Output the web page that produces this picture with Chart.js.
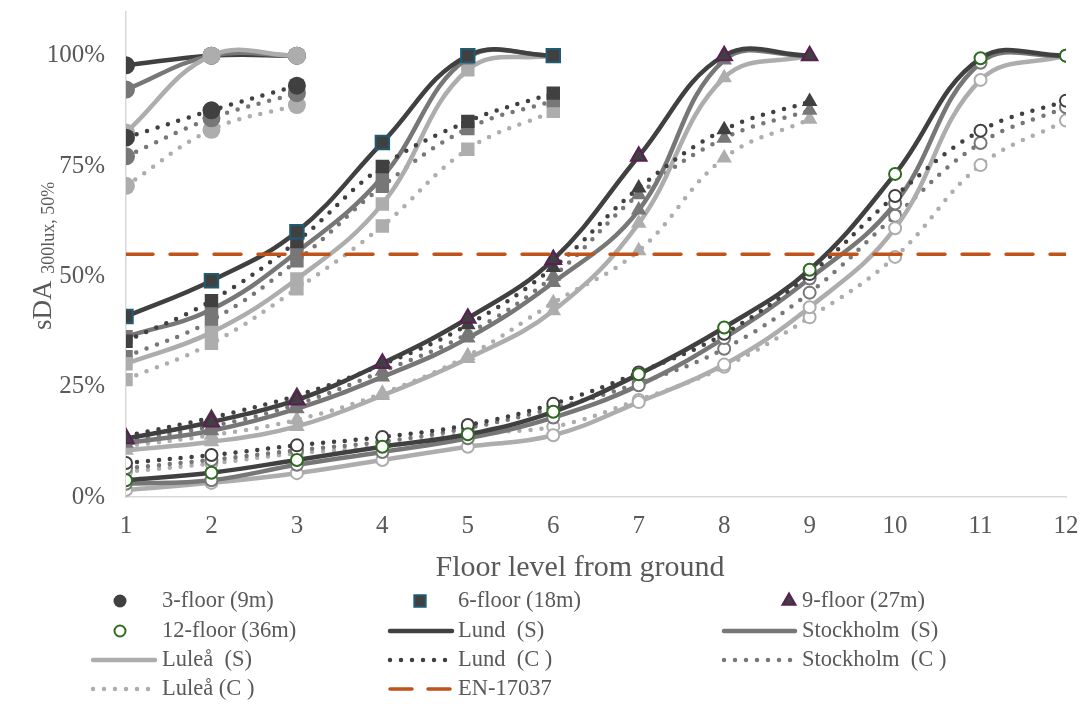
<!DOCTYPE html>
<html>
<head>
<meta charset="utf-8">
<script src="https://cdn.jsdelivr.net/npm/chart.js@4.4.1/dist/chart.umd.min.js"></script>
<style>
  html, body { margin: 0; padding: 0; background: #ffffff; }
  #wrap { width: 1083px; height: 704px; position: relative; }
</style>
</head>
<body>
<div id="wrap"><canvas id="c" width="1083" height="704"></canvas></div>
<script>
// ---- data (sDA in %, by floor level) ----
const floors = [1, 2, 3, 4, 5, 6, 7, 8, 9, 10, 11, 12];
const yTicks = [0, 25, 50, 75, 100];
const thresholdValue = 55;
const thresholdLabel = 'EN-17037';
const xTitle = 'Floor level from ground';
const yTitleMain = 'sDA';
const yTitleSub = '300lux, 50%';

const buildingNames = ['3-floor (9m)', '6-floor (18m)', '9-floor (27m)', '12-floor (36m)'];
const seriesNames = ['Lund  (S)', 'Stockholm  (S)', 'Luleå  (S)', 'Lund  (C )', 'Stockholm  (C )', 'Luleå (C )'];

// 3-floor building
const b3LundS  = [97.8, 100, 100];
const b3StockS = [92.3, 100, 100];
const b3LuleS  = [82.6, 100, 100];
const b3LundC  = [81.4, 87.6, 93.2];
const b3StockC = [77.2, 85.8, 91.5];
const b3LuleC  = [70.5, 83.2, 88.8];

// 6-floor building
const b6LundS  = [40.9, 49.0, 60.1, 80.3, 100, 100];
const b6StockS = [36.3, 42.5, 55.5, 72.5, 99.5, 100];
const b6LuleS  = [30.2, 37.3, 49.4, 66.4, 96.8, 100];
const b6LundC  = [35.3, 44.5, 57.9, 74.9, 85.1, 91.5];
const b6StockC = [31.8, 40.0, 53.5, 70.4, 83.5, 89.8];
const b6LuleC  = [26.6, 34.8, 47.2, 61.4, 78.8, 87.4];

// 9-floor building
const b9LundS  = [13.2, 17.0, 22.0, 30.3, 40.5, 53.8, 77.2, 100, 100];
const b9StockS = [12.2, 15.0, 20.0, 27.2, 36.0, 48.6, 65.0, 99.0, 100];
const b9LuleS  = [10.6, 12.5, 16.0, 23.0, 31.4, 42.2, 62.0, 95.0, 100];
const b9LundC  = [13.8, 18.0, 23.0, 30.0, 39.0, 52.0, 70.0, 83.2, 89.6];
const b9StockC = [12.8, 16.0, 21.0, 28.5, 37.0, 50.0, 68.5, 81.3, 87.6];
const b9LuleC  = [11.5, 14.0, 17.5, 23.5, 32.0, 44.0, 55.8, 76.8, 85.6];

// 12-floor building
const b12LundS  = [3.8, 5.5, 8.4, 11.4, 14.2, 19.3, 27.8, 38.4, 51.5, 73.2, 99.4, 100];
const b12StockS = [3.0, 3.8, 7.3, 10.2, 13.3, 18.0, 25.3, 36.0, 49.5, 66.5, 98.4, 100];
const b12LuleS  = [1.6, 3.2, 5.4, 8.4, 11.4, 14.0, 21.5, 30.0, 43.0, 60.9, 94.5, 100];
const b12LundC  = [7.7, 9.5, 11.7, 13.6, 16.3, 21.1, 28.2, 37.0, 50.5, 68.2, 83.0, 89.8];
const b12StockC = [6.5, 8.4, 10.6, 12.5, 15.6, 20.1, 25.8, 33.6, 46.3, 63.7, 80.2, 88.3];
const b12LuleC  = [5.7, 7.6, 9.9, 11.4, 14.4, 15.9, 22.0, 29.5, 40.7, 54.4, 75.2, 85.3];

// ---- styling ----
const FONT = "'Liberation Serif', 'Times New Roman', serif";
const TEXT = '#595959';
const cityColor = ['#404040', '#777777', '#ADADAD', '#404040', '#777777', '#ADADAD'];
const isCalc = [false, false, false, true, true, true];
const SOLID_W = 4.5;
const DOT_DASH = [0, 11];
const THRESH_COLOR = '#C0531A';

// marker look per building: style, radius, and accent border on the Lund (S) series
const markerLook = [
  { style: 'circle',   radius: 9,   accent: null,      hollow: false },
  { style: 'rect',     radius: 9.5, accent: '#1F5C74', hollow: false },
  { style: 'triangle', radius: 9,   accent: '#5A1F55', hollow: false },
  { style: 'circle',   radius: 6,   accent: '#2E6A1F', hollow: true  }
];

const buildingSeries = [
  [b3LundS, b3StockS, b3LuleS, b3LundC, b3StockC, b3LuleC],
  [b6LundS, b6StockS, b6LuleS, b6LundC, b6StockC, b6LuleC],
  [b9LundS, b9StockS, b9LuleS, b9LundC, b9StockC, b9LuleC],
  [b12LundS, b12StockS, b12LuleS, b12LundC, b12StockC, b12LuleC]
];

// draw order inside a building, bottom first
const stackOrder = [
  [0, 1, 2, 5, 4, 3],
  [5, 4, 2, 1, 3, 0],
  [5, 4, 2, 1, 3, 0],
  [5, 4, 2, 1, 3, 0]
];

function makeDataset(b, s) {
  const look = markerLook[b];
  const values = buildingSeries[b][s];
  const col = cityColor[s];
  const accent = (s === 0 && look.accent) ? look.accent : null;
  return {
    label: buildingNames[b] + ' ' + seriesNames[s],
    data: values.map((v, i) => ({ x: floors[i], y: v })),
    borderColor: col,
    borderWidth: SOLID_W,
    borderDash: isCalc[s] ? DOT_DASH : [],
    borderCapStyle: 'round',
    borderJoinStyle: 'round',
    tension: 0.4,
    fill: false,
    pointStyle: look.style,
    pointRadius: look.radius,
    pointBackgroundColor: look.hollow ? '#ffffff' : col,
    pointBorderColor: accent || col,
    pointBorderWidth: look.hollow ? 2 : (accent ? 2 : 0)
  };
}

const bottomUp = [];
[3, 2, 1, 0].forEach(b => stackOrder[b].forEach(s => bottomUp.push(makeDataset(b, s))));
bottomUp.push({
  label: thresholdLabel,
  data: [{ x: floors[0], y: thresholdValue }, { x: floors[floors.length - 1], y: thresholdValue }],
  borderColor: THRESH_COLOR,
  borderWidth: 3.5,
  borderDash: [27, 17],
  borderCapStyle: 'round',
  pointRadius: 0,
  tension: 0
});
// Chart.js paints the first dataset on top
const datasets = bottomUp.slice().reverse();

// ---- axis titles and legend ----
const legendCols = [
  { x0: 91,  x1: 157, mx: 120, tx: 162 },
  { x0: 388, x1: 454, mx: 420, tx: 458 },
  { x0: 722, x1: 797, mx: 789, tx: 802 }
];
const legendRows = [601, 631, 660, 689];

function legendEntries() {
  const out = [];
  buildingNames.forEach((name, b) => out.push({ kind: 'marker', b, text: name }));
  seriesNames.forEach((name, s) => out.push({ kind: 'line', s, text: name }));
  out.push({ kind: 'thresh', text: thresholdLabel });
  return out;
}

const decorPlugin = {
  id: 'decor',
  afterDraw(chart) {
    const ctx = chart.ctx;
    ctx.save();
    ctx.fillStyle = TEXT;

    // x title
    ctx.font = `30px ${FONT}`;
    ctx.textAlign = 'center';
    ctx.textBaseline = 'middle';
    ctx.fillText(xTitle, 580, 568);

    // y title with subscript
    ctx.save();
    ctx.font = `27px ${FONT}`;
    const wMain = ctx.measureText(yTitleMain + ' ').width;
    ctx.font = `18px ${FONT}`;
    const wSub = ctx.measureText(yTitleSub).width;
    const total = wMain + wSub;
    ctx.translate(51, 256);
    ctx.rotate(-Math.PI / 2);
    ctx.textAlign = 'left';
    ctx.textBaseline = 'alphabetic';
    ctx.font = `27px ${FONT}`;
    ctx.fillText(yTitleMain + ' ', -total / 2, 0);
    ctx.font = `18px ${FONT}`;
    ctx.fillText(yTitleSub, -total / 2 + wMain, 3);
    ctx.restore();

    // legend
    const entries = legendEntries();
    entries.forEach((e, i) => {
      const col = legendCols[i % 3];
      const y = legendRows[Math.floor(i / 3)];
      if (e.kind === 'marker') {
        const look = markerLook[e.b];
        const r = look.style === 'circle' ? (look.hollow ? 5.5 : 6.5) : (look.style === 'rect' ? 8 : 7.5);
        ctx.fillStyle = look.hollow ? '#ffffff' : cityColor[0];
        ctx.strokeStyle = look.accent || cityColor[0];
        ctx.lineWidth = look.accent ? 2 : 0;
        Chart.helpers.drawPoint(ctx, { pointStyle: look.style, radius: r, rotation: 0, borderWidth: look.accent ? 2 : 0 }, col.mx, y);
      } else {
        ctx.save();
        ctx.beginPath();
        ctx.lineCap = 'round';
        if (e.kind === 'thresh') {
          ctx.strokeStyle = THRESH_COLOR;
          ctx.lineWidth = 3.5;
          ctx.setLineDash([22, 16]);
        } else {
          ctx.strokeStyle = cityColor[e.s];
          ctx.lineWidth = SOLID_W;
          ctx.setLineDash(isCalc[e.s] ? DOT_DASH : []);
        }
        ctx.moveTo(col.x0 + 2, y);
        ctx.lineTo(col.x1 - 2, y);
        ctx.stroke();
        ctx.restore();
      }
      ctx.fillStyle = TEXT;
      ctx.font = `22.5px ${FONT}`;
      ctx.textAlign = 'left';
      ctx.textBaseline = 'middle';
      ctx.fillText(e.text, col.tx, y);
    });
    ctx.restore();
  }
};

new Chart(document.getElementById('c'), {
  type: 'line',
  data: { datasets },
  options: {
    responsive: false,
    animation: false,
    devicePixelRatio: 1,
    events: [],
    layout: { padding: { top: 10, right: 17, bottom: 0, left: 0 } },
    plugins: { legend: { display: false }, tooltip: { enabled: false } },
    scales: {
      x: {
        type: 'linear',
        min: floors[0],
        max: floors[floors.length - 1],
        afterBuildTicks: s => { s.ticks = floors.map(v => ({ value: v })); },
        afterFit: s => { s.height = 207; s.paddingLeft = 0; s.paddingRight = 0; },
        grid: { display: true, drawOnChartArea: false, drawTicks: false },
        border: { display: true, color: '#D9D9D9', width: 1.5 },
        ticks: { color: TEXT, font: { family: FONT, size: 25 }, padding: 14, maxRotation: 0 }
      },
      y: {
        min: 0,
        max: 110,
        afterBuildTicks: s => { s.ticks = yTicks.map(v => ({ value: v })); },
        afterFit: s => { s.width = 126; s.paddingTop = 0; s.paddingBottom = 0; },
        grid: { display: true, drawOnChartArea: false, drawTicks: false },
        border: { display: true, color: '#D9D9D9', width: 1.5 },
        ticks: { color: TEXT, font: { family: FONT, size: 25 }, padding: 21, callback: v => v + '%' }
      }
    }
  },
  plugins: [decorPlugin]
});
</script>
</body>
</html>
